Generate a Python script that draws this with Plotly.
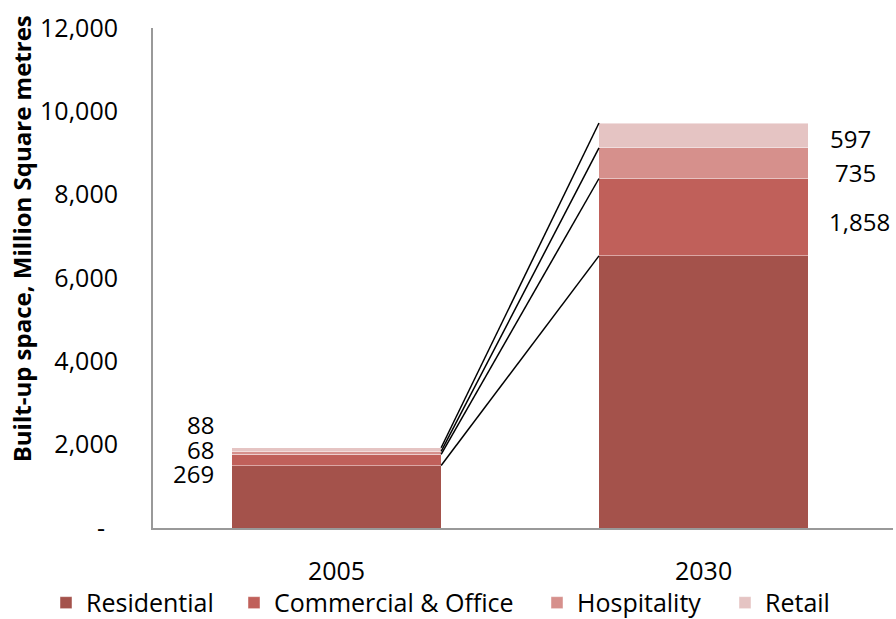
import plotly.graph_objects as go

years = ["2005", "2030"]
series = ["Residential", "Commercial & Office", "Hospitality", "Retail"]
residential = [1500, 6530]
commercial = [269, 1858]
hospitality = [68, 735]
retail = [88, 597]
values = [residential, commercial, hospitality, retail]
colors = ["#A4524B", "#C0605A", "#D6908C", "#E5C4C3"]
ytick_vals = [0, 2000, 4000, 6000, 8000, 10000, 12000]
ytick_text = ["-\u00a0\u00a0", "2,000", "4,000", "6,000", "8,000", "10,000", "12,000"]

FONT = "Open Sans"
BAR_W = 0.57
xs = list(range(len(years)))
legend_ids = ["legend", "legend2", "legend3", "legend4"]
legend_x = [46, 234, 537, 725]  # container px of each legend entry

fig = go.Figure()
for name, vals, col, lid in zip(series, values, colors, legend_ids):
    fig.add_trace(go.Bar(
        x=xs, y=vals, name=name, width=BAR_W, legend=lid,
        marker=dict(color=col, line=dict(color="rgba(255,255,255,0.45)", width=1)),
    ))

# series lines connecting segment tops
cum = [0, 0]
tops = []
for vals in values:
    cum = [c + v for c, v in zip(cum, vals)]
    tops.append(list(cum))
for t in tops:
    fig.add_trace(go.Scatter(
        x=[xs[0] + BAR_W / 2, xs[1] - BAR_W / 2], y=t, mode="lines",
        line=dict(color="black", width=1.5), showlegend=False, hoverinfo="skip",
    ))

# data labels (non-residential series)
yshift_2005 = [None, -14, 3, 25]
yshift_2030 = [None, -4, -9, -3]
xshift_2030 = [None, 19, 25, 20]
for i in range(1, 4):
    base = tops[i - 1]
    vals = values[i]
    fig.add_annotation(x=xs[0] - BAR_W / 2, y=base[0] + vals[0] / 2, text=f"{vals[0]:,}",
                       showarrow=False, xanchor="right", yanchor="middle", xshift=-16,
                       yshift=yshift_2005[i], font=dict(family=FONT, size=24, color="black"))
    fig.add_annotation(x=xs[1] + BAR_W / 2, y=base[1] + vals[1] / 2, text=f"{vals[1]:,}",
                       showarrow=False, xanchor="left", yanchor="middle", xshift=xshift_2030[i],
                       yshift=yshift_2030[i], font=dict(family=FONT, size=24, color="black"))

fig.add_annotation(xref="paper", yref="paper", x=-0.178, y=0.578,
                   text="<b>Built-up space, Million Square metres</b>",
                   textangle=-90, showarrow=False, xanchor="center", yanchor="middle",
                   font=dict(family=FONT, size=24, color="black"))

legend_common = dict(orientation="h", xref="container", yref="container",
                     xanchor="left", y=0.026, yanchor="middle",
                     font=dict(family=FONT, size=25, color="black"),
                     bgcolor="rgba(0,0,0,0)")
legends = {lid: dict(legend_common, x=lx / 896) for lid, lx in zip(legend_ids, legend_x)}

fig.update_layout(
    barmode="stack",
    width=896, height=619,
    margin=dict(l=153, r=3, t=28, b=91, autoexpand=False),
    paper_bgcolor="white", plot_bgcolor="white",
    font=dict(family=FONT, size=25, color="black"),
    showlegend=True,
    **legends,
    xaxis=dict(range=[-0.5, 1.516], tickvals=xs, ticktext=years, showline=True,
               linecolor="#999999", linewidth=2, ticks="", showgrid=False, zeroline=False,
               ticklabelstandoff=20, fixedrange=True),
    yaxis=dict(range=[0, 12000], tickvals=ytick_vals, ticktext=ytick_text, showline=True,
               linecolor="#999999", linewidth=2, ticks="", showgrid=False, zeroline=False,
               ticklabelstandoff=28, fixedrange=True),
)

fig.write_html("out.html", config={"displayModeBar": False},
               post_script="document.body.style.margin='0';document.body.style.overflow='hidden';")
